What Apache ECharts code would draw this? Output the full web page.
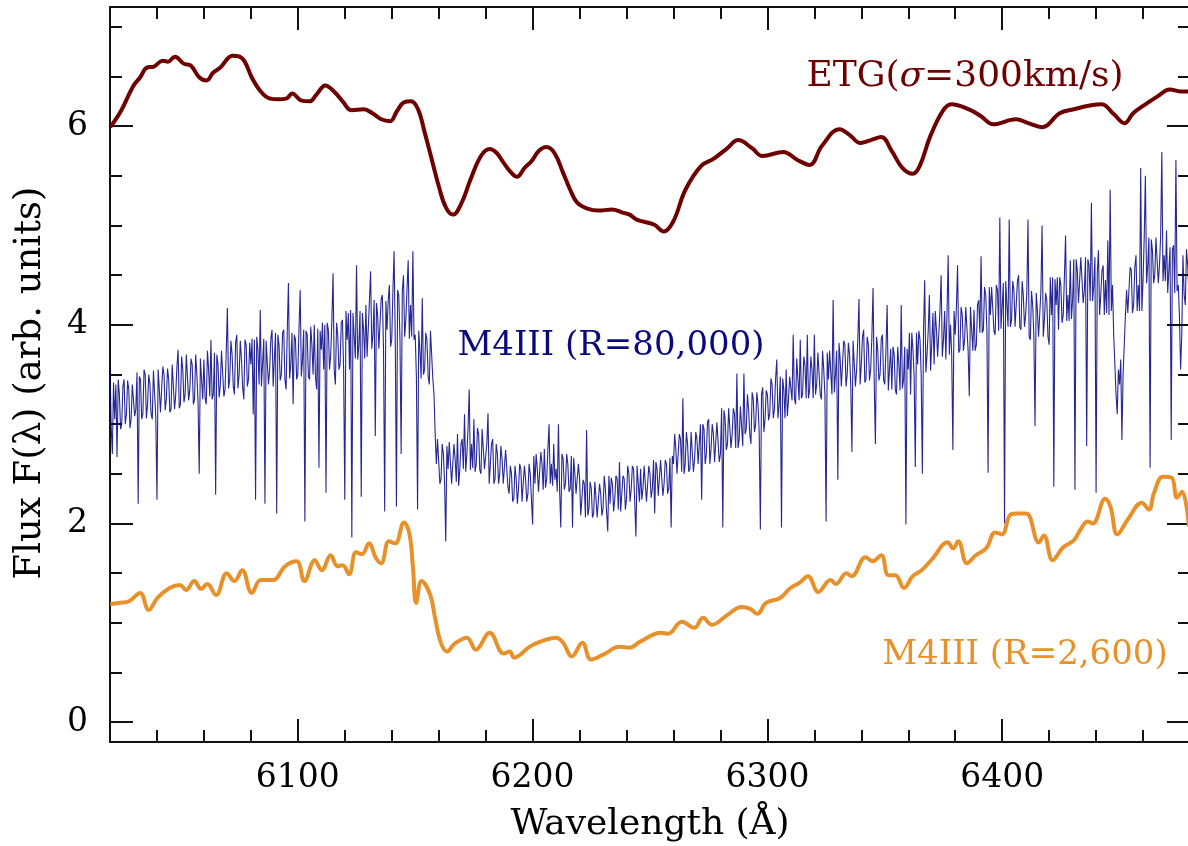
<!DOCTYPE html>
<html>
<head>
<meta charset="utf-8">
<title>ETG and M4III spectra</title>
<script src="https://cdn.jsdelivr.net/npm/echarts@6.0.0/dist/echarts.min.js"></script>
<style>
  html, body { margin: 0; padding: 0; background: #ffffff; }
  #chart { width: 1188px; height: 846px; }
</style>
</head>
<body>
<div id="chart"></div>
<script>
// wavelength range shown (Angstrom) and flux range
const waveRange = [6020, 6480];
const fluxRange = [-0.2, 7.2];

// ETG (sigma = 300 km/s) template, [wavelength, flux]
const etgPoints = [
  [6020.1, 5.99], [6024.6, 6.15], [6029.8, 6.40], [6032.8, 6.49], [6035.7, 6.59], [6038.7, 6.60],
  [6042.4, 6.66], [6044.7, 6.65], [6047.7, 6.70], [6051.4, 6.63], [6054.4, 6.61], [6058.1, 6.49],
  [6061.1, 6.46], [6064.0, 6.54], [6067.0, 6.59], [6072.2, 6.71], [6075.2, 6.70], [6077.4, 6.65],
  [6080.4, 6.49], [6084.2, 6.35], [6087.9, 6.28], [6091.6, 6.27], [6095.3, 6.28], [6097.6, 6.33],
  [6101.3, 6.26], [6105.0, 6.25], [6108.0, 6.32], [6111.7, 6.41], [6115.4, 6.35], [6119.1, 6.25],
  [6122.9, 6.16], [6128.1, 6.17], [6131.8, 6.13], [6135.5, 6.07], [6139.3, 6.05], [6142.2, 6.15],
  [6145.2, 6.24], [6148.2, 6.25], [6151.2, 6.17], [6154.1, 5.93], [6157.1, 5.66], [6160.1, 5.39],
  [6163.1, 5.18], [6166.1, 5.11], [6169.8, 5.23], [6173.5, 5.46], [6178.0, 5.70], [6181.7, 5.77],
  [6184.7, 5.73], [6187.7, 5.63], [6190.6, 5.54], [6193.3, 5.49], [6196.6, 5.58], [6199.6, 5.65],
  [6202.6, 5.75], [6205.8, 5.79], [6209.3, 5.73], [6213.0, 5.53], [6216.0, 5.36], [6219.0, 5.23],
  [6223.4, 5.17], [6227.9, 5.15], [6233.8, 5.16], [6238.3, 5.13], [6241.3, 5.11], [6244.3, 5.06],
  [6251.7, 5.01], [6255.9, 4.94], [6259.9, 5.04], [6265.1, 5.36], [6271.8, 5.60], [6277.0, 5.67],
  [6283.0, 5.78], [6287.5, 5.86], [6293.4, 5.78], [6297.9, 5.70], [6306.8, 5.74], [6312.8, 5.66],
  [6318.0, 5.61], [6323.2, 5.80], [6330.7, 5.97], [6335.1, 5.91], [6339.6, 5.83], [6344.1, 5.86],
  [6348.5, 5.89], [6353.0, 5.75], [6357.5, 5.58], [6361.9, 5.52], [6364.9, 5.60], [6369.4, 5.90],
  [6374.6, 6.15], [6378.3, 6.22], [6385.8, 6.17], [6391.0, 6.10], [6396.2, 6.02], [6405.9, 6.07],
  [6411.1, 6.03], [6417.0, 5.99], [6424.5, 6.13], [6430.5, 6.17], [6437.9, 6.21], [6442.4, 6.22],
  [6447.6, 6.12], [6452.1, 6.03], [6455.8, 6.13], [6461.0, 6.22], [6466.2, 6.30], [6471.4, 6.37],
  [6475.9, 6.35], [6479.5, 6.35]
];

// M4III star at R=2,600, [wavelength, flux]
const lowResPoints = [
  [6020.1, 1.19], [6023.8, 1.20], [6028.3, 1.22], [6032.8, 1.30], [6036.5, 1.13], [6040.2, 1.25],
  [6045.4, 1.35], [6049.9, 1.38], [6052.4, 1.33], [6055.9, 1.42], [6058.8, 1.34], [6061.4, 1.39],
  [6065.2, 1.28], [6069.7, 1.50], [6073.0, 1.42], [6076.3, 1.53], [6080.4, 1.30], [6084.2, 1.43],
  [6089.4, 1.43], [6094.6, 1.57], [6099.5, 1.62], [6102.8, 1.42], [6107.2, 1.63], [6110.2, 1.53],
  [6114.0, 1.68], [6116.9, 1.57], [6119.1, 1.58], [6121.8, 1.49], [6124.8, 1.71], [6127.3, 1.69],
  [6130.3, 1.80], [6133.3, 1.65], [6135.5, 1.60], [6138.8, 1.82], [6141.5, 1.80], [6145.2, 2.01],
  [6147.5, 1.90], [6149.0, 1.57], [6150.4, 1.20], [6152.7, 1.42], [6156.4, 1.28], [6158.6, 1.03],
  [6160.9, 0.80], [6163.5, 0.71], [6166.8, 0.79], [6172.0, 0.85], [6175.8, 0.73], [6181.7, 0.90],
  [6187.7, 0.69], [6190.3, 0.71], [6192.1, 0.65], [6198.8, 0.76], [6203.3, 0.81], [6210.0, 0.85],
  [6213.0, 0.80], [6216.7, 0.66], [6221.2, 0.80], [6224.9, 0.63], [6230.9, 0.69], [6236.8, 0.76],
  [6241.3, 0.75], [6245.8, 0.81], [6254.7, 0.90], [6257.7, 0.89], [6263.6, 1.01], [6268.9, 0.95],
  [6272.6, 1.05], [6276.3, 0.98], [6283.0, 1.08], [6289.0, 1.16], [6292.7, 1.14], [6295.7, 1.09],
  [6299.4, 1.20], [6305.4, 1.25], [6309.8, 1.35], [6313.5, 1.40], [6317.3, 1.47], [6321.7, 1.31],
  [6326.9, 1.43], [6329.2, 1.39], [6333.6, 1.50], [6335.9, 1.47], [6341.8, 1.66], [6344.8, 1.62],
  [6348.5, 1.68], [6351.5, 1.48], [6354.5, 1.48], [6358.2, 1.35], [6361.9, 1.47], [6365.7, 1.53],
  [6370.1, 1.64], [6376.8, 1.81], [6379.1, 1.75], [6381.3, 1.82], [6385.0, 1.60], [6388.8, 1.68],
  [6393.2, 1.75], [6397.0, 1.91], [6399.9, 1.89], [6403.6, 2.09], [6406.6, 2.10], [6410.3, 2.10],
  [6415.6, 1.81], [6417.8, 1.88], [6421.5, 1.63], [6426.0, 1.76], [6430.5, 1.83], [6433.4, 1.94],
  [6436.4, 2.02], [6438.6, 2.00], [6443.9, 2.25], [6446.1, 2.17], [6449.1, 1.89], [6453.5, 2.04],
  [6459.5, 2.21], [6462.5, 2.14], [6464.7, 2.31], [6468.4, 2.47], [6472.2, 2.46], [6474.4, 2.26],
  [6476.6, 2.32], [6479.5, 1.97]
];

// M4III star at R=80,000: one flux value every 0.5 Angstrom from 6020 (20 per row = 10 A)
const highResStart = 6020;
const highResStep = 0.5;
const highResFlux = [
  3.58, 2.98, 2.70, 3.42, 3.05, 3.40, 2.67, 3.45, 3.30, 2.95, 3.00, 3.38, 3.45, 3.00, 3.10, 3.44, 3.35, 2.96, 3.05, 3.40,
  3.40, 3.08, 3.15, 3.52, 2.20, 3.48, 3.45, 3.05, 3.10, 3.55, 3.50, 3.06, 3.20, 3.50, 3.40, 3.10, 3.05, 3.54, 3.55, 3.08,
  2.24, 3.55, 3.35, 3.12, 3.10, 3.58, 3.50, 3.14, 3.25, 3.56, 3.45, 3.12, 3.15, 3.60, 3.60, 3.15, 3.30, 3.58, 3.75, 3.16,
  3.20, 3.68, 3.55, 3.22, 3.30, 3.70, 3.70, 3.24, 3.35, 3.66, 3.60, 3.20, 3.25, 3.70, 3.50, 3.22, 2.50, 3.66, 3.45, 3.25,
  3.65, 3.26, 3.20, 3.74, 3.55, 3.28, 3.85, 3.25, 3.30, 3.72, 2.29, 3.70, 3.60, 3.27, 3.40, 3.74, 3.75, 3.28, 3.35, 3.72,
  4.17, 3.36, 3.45, 3.84, 3.70, 3.38, 3.30, 3.82, 3.90, 3.36, 3.50, 3.84, 3.65, 3.37, 3.25, 3.85, 3.80, 3.38, 3.45, 3.82,
  3.60, 3.86, 3.10, 3.85, 2.24, 3.88, 3.75, 3.40, 4.15, 3.38, 3.40, 3.86, 2.20, 3.84, 3.85, 3.40, 3.55, 3.86, 3.95, 3.38,
  3.40, 3.92, 2.10, 3.90, 3.80, 3.44, 3.50, 3.92, 3.95, 3.45, 3.35, 3.94, 4.42, 3.46, 3.60, 3.92, 3.20, 3.90, 3.85, 3.45,
  3.50, 3.96, 4.35, 3.48, 3.65, 3.95, 2.02, 3.94, 3.90, 3.48, 3.45, 3.98, 3.80, 3.50, 4.00, 3.48, 3.35, 3.96, 2.56, 3.94,
  3.75, 4.02, 3.55, 4.00, 2.31, 4.02, 3.95, 3.55, 3.70, 4.04, 4.52, 3.54, 3.40, 4.02, 3.90, 3.55, 3.60, 4.02, 4.05, 3.56,
  2.24, 4.14, 3.85, 4.12, 3.55, 4.15, 1.86, 4.12, 4.10, 3.66, 4.60, 3.65, 3.80, 4.14, 2.27, 4.12, 3.95, 3.66, 4.20, 3.68,
  3.70, 4.24, 4.54, 3.76, 3.90, 4.25, 2.88, 4.22, 4.10, 3.76, 3.75, 4.26, 4.30, 3.75, 2.12, 4.24, 3.95, 4.25, 4.40, 3.78,
  3.85, 4.34, 4.74, 3.86, 2.17, 4.35, 4.30, 3.86, 2.70, 4.34, 4.50, 3.88, 4.05, 4.35, 4.65, 3.86, 4.20, 3.88, 4.74, 3.85,
  3.90, 3.48, 2.14, 3.94, 3.75, 3.46, 4.27, 3.50, 3.55, 3.92, 3.85, 3.48, 3.40, 3.94, 3.70, 3.46, 3.30, 2.90, 2.60, 2.85,
  2.85, 2.40, 2.45, 2.80, 2.70, 2.42, 1.82, 2.78, 2.55, 2.82, 2.80, 2.40, 2.40, 2.80, 2.65, 2.42, 2.90, 2.38, 2.55, 2.80,
  2.85, 2.55, 3.10, 2.52, 2.70, 2.96, 3.35, 2.54, 2.80, 2.56, 3.05, 2.52, 2.60, 2.96, 2.90, 2.54, 2.50, 2.95, 2.75, 2.55,
  2.55, 2.80, 3.11, 2.40, 2.60, 2.80, 2.85, 2.40, 2.45, 2.80, 2.70, 2.40, 2.50, 2.78, 2.65, 2.40, 2.40, 2.74, 2.55, 2.36,
  2.30, 2.58, 2.50, 2.22, 2.25, 2.58, 2.45, 2.20, 2.35, 2.60, 2.55, 2.22, 2.20, 2.58, 2.45, 2.22, 2.30, 2.60, 2.50, 2.24,
  1.99, 2.68, 2.40, 2.70, 2.55, 2.32, 2.30, 2.72, 2.60, 2.34, 2.75, 2.36, 2.45, 2.74, 3.00, 2.40, 2.60, 2.38, 2.80, 2.44,
  2.55, 2.32, 3.00, 2.34, 1.96, 2.70, 2.65, 2.34, 2.40, 2.70, 2.60, 2.32, 2.35, 2.68, 1.96, 2.66, 2.50, 2.30, 2.30, 2.60,
  2.45, 2.08, 2.25, 2.44, 2.40, 2.06, 2.94, 2.08, 2.15, 2.42, 2.35, 2.06, 2.10, 2.42, 2.25, 2.06, 2.05, 2.40, 2.30, 2.08,
  2.15, 2.48, 2.35, 2.12, 1.92, 2.48, 2.20, 2.46, 2.40, 2.12, 2.25, 2.48, 2.45, 2.14, 2.62, 2.12, 2.30, 2.48, 2.45, 2.14,
  2.25, 2.58, 2.50, 2.22, 2.35, 2.58, 2.55, 2.22, 1.87, 2.58, 2.40, 2.22, 2.55, 2.24, 2.35, 2.58, 2.60, 2.22, 2.40, 2.58,
  2.50, 2.26, 2.35, 2.64, 2.10, 2.62, 2.55, 2.28, 2.45, 2.64, 2.65, 2.28, 2.40, 2.64, 2.60, 2.30, 2.35, 2.66, 1.96, 2.68,
  2.60, 2.90, 2.75, 2.50, 2.50, 2.90, 2.85, 2.52, 3.26, 2.50, 2.60, 2.92, 2.80, 2.52, 2.55, 2.92, 2.90, 2.52, 2.65, 2.92,
  2.85, 2.60, 2.60, 3.00, 2.24, 3.00, 2.95, 2.60, 2.70, 3.02, 3.05, 2.60, 2.75, 3.00, 2.90, 2.62, 2.60, 3.02, 3.00, 2.62,
  2.70, 3.16, 1.96, 3.14, 3.05, 2.74, 2.80, 3.16, 3.15, 2.76, 2.90, 3.16, 3.10, 2.76, 3.51, 2.76, 2.85, 3.18, 3.20, 2.78,
  3.51, 2.90, 2.95, 3.30, 3.15, 2.90, 2.80, 3.32, 3.25, 2.92, 3.00, 3.32, 3.20, 2.92, 1.94, 3.30, 3.37, 2.92, 3.05, 3.34,
  3.30, 3.04, 3.10, 3.46, 3.40, 3.06, 3.15, 3.46, 3.65, 3.06, 3.20, 3.48, 1.96, 3.46, 3.35, 3.06, 3.55, 3.08, 3.25, 3.48,
  3.50, 3.24, 3.90, 3.26, 3.20, 3.66, 3.45, 3.24, 3.85, 3.26, 3.30, 3.68, 3.60, 3.26, 3.90, 3.26, 3.35, 3.68, 3.55, 3.26,
  3.90, 3.30, 3.40, 3.72, 3.70, 3.30, 3.25, 3.74, 3.55, 3.30, 2.02, 3.72, 3.45, 3.74, 3.75, 3.30, 4.25, 3.32, 3.50, 3.74,
  2.44, 3.82, 3.65, 3.38, 3.40, 3.84, 3.80, 3.38, 3.50, 3.82, 3.70, 3.40, 2.72, 3.84, 3.85, 3.38, 3.55, 3.84, 4.26, 3.40,
  3.60, 3.88, 3.95, 3.42, 3.45, 3.88, 3.80, 3.44, 3.55, 3.88, 4.37, 3.42, 2.80, 3.88, 3.75, 3.44, 3.50, 3.86, 3.90, 3.44,
  3.40, 3.76, 4.20, 3.34, 3.55, 3.76, 3.35, 3.78, 3.70, 3.34, 3.30, 3.78, 3.60, 3.34, 4.20, 3.36, 3.45, 3.78, 1.99, 3.76,
  3.55, 3.92, 3.30, 3.92, 3.75, 3.48, 2.57, 3.92, 3.60, 3.94, 3.85, 3.50, 2.50, 3.94, 4.45, 3.52, 3.70, 3.94, 4.30, 3.54,
  3.80, 4.12, 3.60, 4.14, 3.95, 3.68, 3.70, 4.14, 4.50, 3.68, 3.85, 4.14, 3.65, 4.12, 4.70, 3.70, 4.00, 3.70, 2.74, 4.14,
  3.90, 4.18, 4.60, 3.72, 3.75, 4.18, 4.10, 3.74, 3.85, 4.18, 4.20, 3.74, 3.28, 4.18, 3.95, 3.74, 4.15, 3.74, 3.80, 4.20,
  4.25, 3.92, 4.69, 3.92, 3.95, 4.38, 4.30, 3.94, 2.51, 4.38, 4.10, 4.38, 4.40, 3.94, 3.90, 4.40, 4.35, 3.94, 5.08, 3.96,
  4.20, 4.42, 2.00, 4.44, 4.45, 3.98, 5.06, 3.98, 4.05, 4.44, 4.35, 3.98, 4.00, 4.44, 4.50, 3.98, 3.95, 4.44, 4.30, 3.98,
  4.10, 4.32, 5.06, 3.88, 3.85, 4.34, 4.20, 3.88, 2.98, 4.32, 4.15, 3.88, 3.90, 4.34, 5.00, 3.88, 4.05, 4.32, 4.25, 3.88,
  3.80, 4.48, 4.10, 4.48, 2.37, 4.46, 4.20, 4.48, 3.95, 4.48, 4.40, 4.02, 4.10, 4.48, 4.90, 4.04, 4.30, 4.04, 4.65, 4.06,
  4.25, 4.66, 2.34, 4.66, 4.55, 4.22, 4.20, 4.68, 4.70, 4.22, 4.35, 4.68, 2.78, 4.66, 4.60, 4.24, 5.23, 4.24, 4.40, 4.68,
  2.31, 4.52, 4.75, 4.10, 4.30, 4.54, 4.60, 4.10, 4.45, 4.12, 4.85, 4.10, 5.36, 4.14, 4.40, 3.90, 3.60, 3.30, 3.10, 3.55,
  3.40, 3.65, 2.84, 3.50, 3.80, 4.10, 4.35, 4.12, 4.10, 4.58, 4.55, 4.12, 4.20, 4.58, 4.70, 4.14, 4.40, 4.14, 5.58, 4.14,
  4.45, 4.88, 5.50, 4.42, 4.60, 4.88, 2.56, 4.86, 4.75, 4.42, 4.50, 4.88, 4.90, 4.42, 4.60, 4.90, 5.74, 4.44, 4.70, 4.44,
  4.95, 4.32, 4.55, 4.78, 2.84, 4.76, 4.80, 4.32, 5.66, 4.34, 4.40, 4.10, 3.55, 3.90, 4.70, 4.30, 4.20, 4.76, 4.60, 4.34
];

const serif = "'DejaVu Serif', 'Liberation Serif', serif";
const ink = "#111111";

const chart = echarts.init(document.getElementById("chart"));

// build one axis; "major" ones carry the long ticks and the labels
function waveAxis(position, major) {
  return {
    type: "value",
    position: position,
    min: waveRange[0],
    max: waveRange[1],
    interval: major ? undefined : 20,
    splitNumber: major ? 5 : undefined,
    axisLine: { show: !major, onZero: false, lineStyle: { color: ink, width: 2 } },
    axisTick: { inside: true, length: major ? 23 : 12, lineStyle: { color: ink, width: 2 } },
    axisLabel: {
      show: major && position === "bottom",
      margin: 20,
      color: "#000",
      fontFamily: serif,
      fontSize: 33,
      formatter: function (v) { return v % 100 === 0 ? String(v) : ""; }
    },
    splitLine: { show: false }
  };
}

function fluxAxis(position, major) {
  return {
    type: "value",
    position: position,
    min: fluxRange[0],
    max: fluxRange[1],
    splitNumber: major ? 4 : 15,
    axisLine: { show: !major, onZero: false, lineStyle: { color: ink, width: 2 } },
    axisTick: { inside: true, length: major ? 23 : 12, lineStyle: { color: ink, width: 2 } },
    axisLabel: {
      show: major && position === "left",
      margin: 22,
      color: "#000",
      fontFamily: serif,
      fontSize: 33,
      formatter: function (v) { return Math.abs(v % 2) < 1e-9 ? String(v) : ""; }
    },
    splitLine: { show: false }
  };
}

const xAxes = [
  waveAxis("bottom", false),
  waveAxis("bottom", true),
  waveAxis("top", false),
  waveAxis("top", true)
];
xAxes[1].name = "Wavelength (Å)";
xAxes[1].nameLocation = "middle";
xAxes[1].nameGap = 65;
xAxes[1].nameTextStyle = { fontFamily: serif, fontSize: 36, color: "#000" };

const yAxes = [
  fluxAxis("left", false),
  fluxAxis("left", true),
  fluxAxis("right", false),
  fluxAxis("right", true)
];

chart.setOption({
  animation: false,
  backgroundColor: "#ffffff",
  grid: { left: 110, right: -2, top: 7, bottom: 104, containLabel: false, outerBoundsMode: "none" },
  xAxis: xAxes,
  yAxis: yAxes,
  series: [
    {
      name: "M4III (R=80,000)",
      type: "line",
      showSymbol: false,
      data: highResFlux.map(function (f, i) { return [highResStart + i * highResStep, f]; }),
      lineStyle: { color: "rgba(0,0,130,0.85)", width: 1.1 },
      z: 2
    },
    {
      name: "M4III (R=2,600)",
      type: "line",
      showSymbol: false,
      smooth: 0.4,
      data: lowResPoints,
      lineStyle: { color: "#e8912a", width: 4 },
      z: 3
    },
    {
      name: "ETG",
      type: "line",
      showSymbol: false,
      smooth: 0.4,
      data: etgPoints,
      lineStyle: { color: "#6e0000", width: 4 },
      z: 4
    }
  ],
  graphic: [
    {
      type: "text", x: 30, y: 383, rotation: Math.PI / 2,
      style: {
        text: "Flux F(λ) (arb. units)",
        fontFamily: serif, fontSize: 37, fill: "#000",
        align: "center", verticalAlign: "middle"
      }
    },
    {
      type: "text", x: 965, y: 77,
      style: {
        text: "ETG({s|σ}=300km/s)",
        fontFamily: serif, fontSize: 36, fill: "#6e0000",
        align: "center", verticalAlign: "middle",
        rich: { s: { fontStyle: "italic", fontFamily: serif, fontSize: 36, fill: "#6e0000" } }
      }
    },
    {
      type: "text", x: 611, y: 346,
      style: {
        text: "M4III (R=80,000)",
        fontFamily: serif, fontSize: 34, fill: "#0a0a80",
        align: "center", verticalAlign: "middle"
      }
    },
    {
      type: "text", x: 1025, y: 655,
      style: {
        text: "M4III (R=2,600)",
        fontFamily: serif, fontSize: 34, fill: "#e8912a",
        align: "center", verticalAlign: "middle"
      }
    }
  ]
});
</script>
</body>
</html>
